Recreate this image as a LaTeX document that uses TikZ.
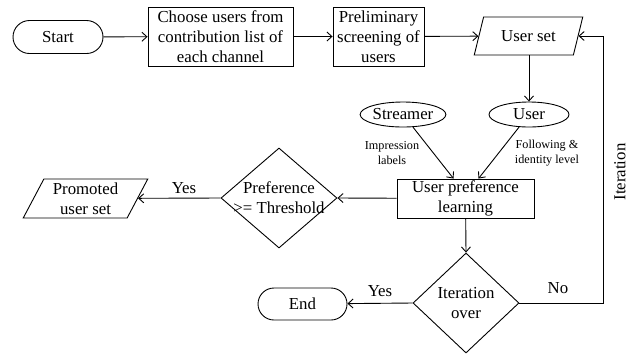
\documentclass[tikz,border=0pt]{standalone}
\usepackage{fontspec}
\setmainfont{Liberation Serif}
\usetikzlibrary{shapes.misc,shapes.geometric,arrows.meta}
\begin{document}
\begin{tikzpicture}[x=1pt,y=-1pt,
  every node/.style={font=\fontsize{16.8}{20}\selectfont, inner sep=0pt, align=center},
  base/.style={draw, line width=0.9pt},
  term/.style={base, rounded rectangle},
  procbox/.style={base, rectangle},
  iobox/.style={base, trapezium, trapezium left angle=63, trapezium right angle=117, trapezium stretches=true},
  oval/.style={base, ellipse},
  decide/.style={base, diamond},
  small/.style={font=\fontsize{12.2}{15}\selectfont},
  arr/.style={line width=0.9pt, -{Straight Barb[length=5pt,width=9pt]}},
  line/.style={line width=0.9pt}]
\useasboundingbox (0,0) rectangle (639,357);
\node[term, minimum width=90pt, minimum height=33pt] (start) at (58,37) {Start};
\node[procbox, minimum width=145pt, minimum height=59pt] (choose) at (220.5,36.5) {Choose users from\\contribution list of\\each channel};
\node[procbox, minimum width=91pt, minimum height=59pt] (prelim) at (378.5,36.5) {Preliminary\\screening of\\users};
\node[iobox, minimum width=109pt, minimum height=38pt] (userset) at (528.5,36) {User set};
\node[oval, minimum width=80pt, minimum height=25pt] (streamer) at (403,114.5) {Streamer};
\node[oval, minimum width=80pt, minimum height=25pt] (user) at (529,114.5) {User};
\node[procbox, minimum width=137pt, minimum height=39pt] (upl) at (465.5,198.5) {User preference\\learning};
\node[decide, minimum width=116pt, minimum height=100pt, label={center:Preference\\>= Threshold}] (pref) at (279,198) {};
\node[iobox, minimum width=125pt, minimum height=39pt] (promoted) at (85.5,198.5) {Promoted\\user set};
\node[decide, minimum width=106pt, minimum height=100pt, label={center:Iteration\\over}] (iter) at (466,303) {};
\node[term, minimum width=89pt, minimum height=32pt] (end) at (302.5,304) {End};
\coordinate (loop) at (603,303);

\draw[arr] (start) -- (choose);
\draw[arr] (choose) -- (prelim);
\draw[arr] (prelim) -- (userset);
\draw[arr] (userset.south -| user.north) -- (user);
\draw[arr] (streamer) -- ([xshift=-12pt]upl.north);
\draw[arr] (user) -- ([xshift=13pt]upl.north);
\draw[arr] (upl) -- (pref.east);
\draw[arr] (pref.west) -- (promoted);
\draw[arr] (upl) -- (iter.north);
\draw[arr] (iter.west) -- (end);
\draw[arr] (iter.east) -- (loop) |- (userset.east);

\node[small] (lbimp) at (392,153.5) {Impression\\labels};
\node[small] (lbfol) at (547,153.5) {Following \&\\identity level};
\node (yes1) at (184,188) {Yes};
\node (yes2) at (380,291) {Yes};
\node (no) at (558,288) {No};
\node[rotate=90] (iterlab) at (620,172) {Iteration};
\end{tikzpicture}
\end{document}
